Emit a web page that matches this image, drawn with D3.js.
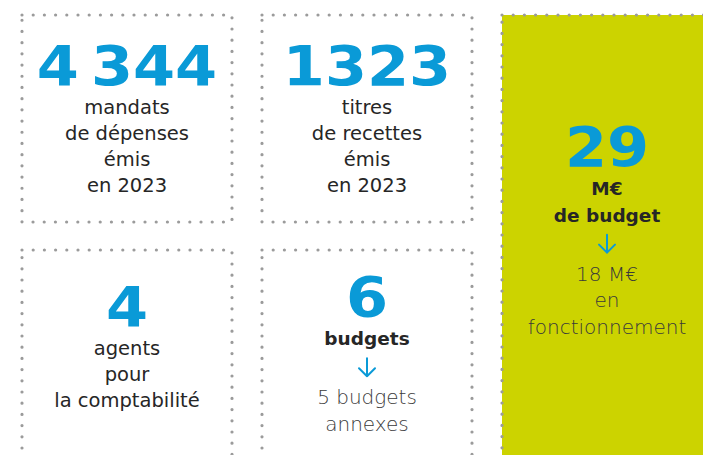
<!DOCTYPE html>
<html>
<head>
<meta charset="utf-8">
<script src="https://d3js.org/d3.v7.min.js"></script>
<style>
  body { margin: 0; background: #fff; }
  svg { display: block; }
</style>
</head>
<body>
<div id="chart"></div>
<script>
// figures shown in each tile (col, row) and the lines under them
var figures = ["4\u202f344", "1323", "29", "4", "6"];
var tileCols = [0, 1, 2, 0, 1];
var tileRows = [0, 0, 0, 1, 1];
var tileSpan = [1, 1, 2, 1, 1];
var captions = [
  ["mandats", "de dépenses", "émis", "en 2023"],
  ["titres", "de recettes", "émis", "en 2023"],
  ["M€", "de budget"],
  ["agents", "pour", "la comptabilité"],
  ["budgets"]
];
var details = [[], [], ["18 M€", "en", "fonctionnement"], [], ["5 budgets", "annexes"]];
var boldCaption = [false, false, true, false, true];
var highlight = [false, false, true, false, false];

var W = 703, H = 455;
var blue = "#0a9ad7", green = "#ccd300", dotGrey = "#9b9b9b", ink = "#262626";
var font = "'DejaVu Sans', sans-serif";

var svg = d3.select("#chart").append("svg")
    .attr("width", W).attr("height", H);

var x = d3.scaleBand().domain([0, 1, 2]).range([22, 712]).paddingInner(0.125);
var y = d3.scaleBand().domain([0, 1]).range([15, 457]).paddingInner(0.119);

var tiles = figures.map(function(f, i) {
  var x0 = x(tileCols[i]), y0 = y(tileRows[i]);
  var h = tileSpan[i] === 2 ? y(1) + y.bandwidth() - y0 : y.bandwidth();
  var open = tileRows[i] === 1 || tileSpan[i] === 2;   // runs off the bottom of the page
  return {i: i, x0: x0, y0: y0, w: x.bandwidth(), h: h, drawH: open ? H - y0 + 20 : h};
});

// tile backgrounds
svg.selectAll("rect.bg").data(tiles.filter(function(d) { return highlight[d.i]; }))
  .enter().append("rect")
    .attr("x", function(d) { return d.x0; })
    .attr("y", function(d) { return d.y0; })
    .attr("width", function(d) { return d.w + 20; })
    .attr("height", function(d) { return d.drawH; })
    .attr("fill", green);

// dotted borders
svg.selectAll("rect.border").data(tiles)
  .enter().append("rect")
    .attr("x", function(d) { return d.x0; })
    .attr("y", function(d) { return d.y0; })
    .attr("width", function(d) { return d.w; })
    .attr("height", function(d) { return d.drawH; })
    .attr("fill", "none")
    .attr("stroke", dotGrey)
    .attr("stroke-width", 3.2)
    .attr("stroke-linecap", "round")
    .attr("stroke-dasharray", "0,11.2");

// small vertical lift per tile (layout tweak)
var lift = {2: 6, 3: 7};

// stack the content of each tile, then centre it vertically
tiles.forEach(function(t) {
  var items = [];
  var cur = 0;
  items.push({type: "num", text: figures[t.i], y: cur});
  captions[t.i].forEach(function(c, k) {
    cur += k === 0 ? 29 : 26.3;
    items.push({type: boldCaption[t.i] ? "bold" : "text", text: c, y: cur});
  });
  if (details[t.i].length) {
    items.push({type: "arrow", y: cur + 13, y2: cur + 31});
    cur += 31;
    details[t.i].forEach(function(c, k) {
      cur += k === 0 ? 28 : 26.5;
      items.push({type: "light", text: c, y: cur});
    });
  }
  var top = -40, bottom = cur;
  var off = t.y0 + t.h / 2 - (top + bottom) / 2 - (lift[t.i] || 0);
  var cx = t.x0 + t.w / 2;

  var g = svg.append("g").attr("transform", "translate(" + cx + "," + off + ")");

  items.forEach(function(it) {
    if (it.type === "num") {
      g.append("text")
        .attr("transform", "translate(0," + it.y + ") scale(1.1,1)")
        .attr("text-anchor", "middle")
        .attr("font-family", font)
        .attr("font-weight", 700)
        .attr("font-size", 55)
        .attr("fill", blue)
        .text(it.text);
    } else if (it.type === "arrow") {
      var a = d3.path();
      a.moveTo(0, it.y); a.lineTo(0, it.y2);
      a.moveTo(-8, it.y2 - 8); a.lineTo(0, it.y2); a.lineTo(8, it.y2 - 8);
      g.append("path").attr("d", a.toString())
        .attr("fill", "none").attr("stroke", blue)
        .attr("stroke-width", 2).attr("stroke-linecap", "round")
        .attr("stroke-linejoin", "round");
    } else {
      g.append("text")
        .attr("x", 0).attr("y", it.y)
        .attr("text-anchor", "middle")
        .attr("font-family", font)
        .attr("font-weight", it.type === "bold" ? 700 : it.type === "light" ? 200 : 400)
        .attr("font-size", it.type === "bold" ? 18.5 : it.type === "light" ? 20 : 19.5)
        .attr("fill", it.type === "light" ? "#3a3a3a" : ink)
        .text(it.text);
    }
  });
});
</script>
</body>
</html>
